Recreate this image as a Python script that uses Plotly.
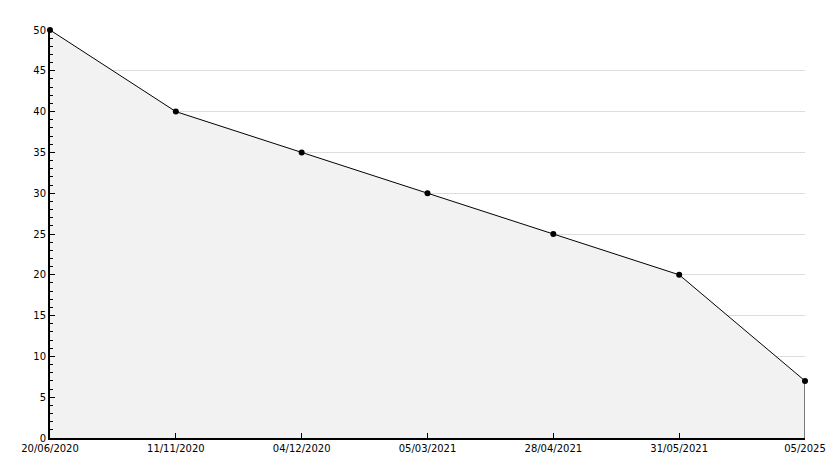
import plotly.graph_objects as go

categories = ["20/06/2020", "11/11/2020", "04/12/2020", "05/03/2021", "28/04/2021", "31/05/2021", "05/2025"]
values = [50, 40, 35, 30, 25, 20, 7]
y_ticks = [0, 5, 10, 15, 20, 25, 30, 35, 40, 45, 50]

fig = go.Figure()
fig.add_trace(go.Scatter(
    x=categories, y=values, mode="lines+markers",
    line=dict(color="black", width=1),
    marker=dict(color="black", size=6, symbol="circle"),
    fill="tozeroy", fillcolor="#f2f2f2",
    cliponaxis=False,
    hoverinfo="x+y",
))
# closing edge of the area at the last point
fig.add_trace(go.Scatter(
    x=[categories[-1], categories[-1]], y=[0, values[-1]], mode="lines",
    line=dict(color="black", width=1), hoverinfo="skip", cliponaxis=False,
))

fig.update_layout(
    width=834, height=468,
    margin=dict(l=50, r=29, t=30, b=30),
    paper_bgcolor="white", plot_bgcolor="white",
    showlegend=False,
    font=dict(family="DejaVu Sans", size=10, color="black"),
)
fig.update_xaxes(
    type="category", range=[0, len(categories) - 1], automargin=False,
    showgrid=False, showline=True, linecolor="black", linewidth=2,
    ticks="inside", ticklen=5, tickcolor="black", zeroline=False,
    tickfont=dict(size=10),
)
fig.update_yaxes(
    range=[0, 50], tickvals=y_ticks, automargin=False,
    showgrid=True, gridcolor="#dddddd", gridwidth=1,
    showline=True, linecolor="black", linewidth=2,
    ticks="inside", ticklen=5, tickcolor="black", zeroline=False,
    minor=dict(ticks="inside", ticklen=3, dtick=1, tickcolor="black", showgrid=False),
    tickfont=dict(size=10),
)

fig.write_html("out.html", config={"displayModeBar": False},
               post_script="document.body.style.margin='0';")
